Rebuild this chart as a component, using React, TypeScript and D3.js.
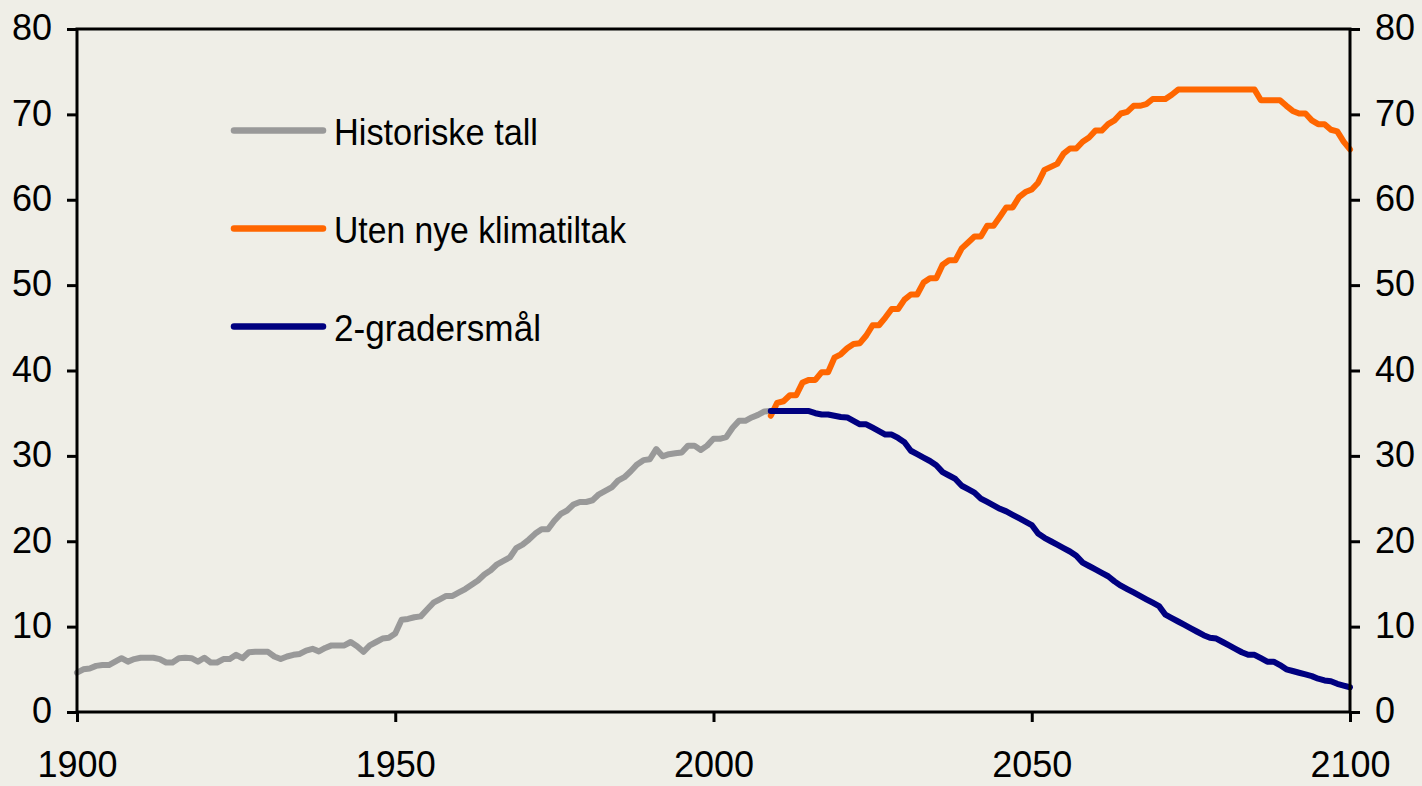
import React, { useRef, useEffect } from 'react';
import * as d3 from 'd3';

// annual values
const historicalStart = 1900;
const historical = [
  4.6, 5.0, 5.1, 5.4, 5.5, 5.5, 5.9, 6.3, 5.9, 6.2,
  6.35, 6.35, 6.35, 6.2, 5.8, 5.8, 6.3, 6.35, 6.3, 5.9,
  6.35, 5.8, 5.8, 6.2, 6.2, 6.7, 6.3, 7.0, 7.05, 7.05,
  7.05, 6.5, 6.2, 6.5, 6.7, 6.8, 7.2, 7.4, 7.1, 7.5,
  7.8, 7.8, 7.8, 8.2, 7.7, 7.05, 7.8, 8.2, 8.6, 8.7,
  9.2, 10.8, 10.9, 11.1, 11.2, 12.0, 12.8, 13.2, 13.6, 13.6,
  14.0, 14.4, 14.9, 15.4, 16.1, 16.6, 17.3, 17.7, 18.1, 19.2,
  19.6, 20.2, 20.9, 21.4, 21.4, 22.4, 23.2, 23.6, 24.3, 24.6,
  24.6, 24.8, 25.5, 25.9, 26.3, 27.1, 27.5, 28.2, 29.0, 29.5,
  29.6, 30.8, 29.95, 30.2, 30.3, 30.4, 31.2, 31.2, 30.7, 31.2,
  32.0, 32.0, 32.2, 33.3, 34.1, 34.1, 34.5, 34.8, 35.2, 35.25
];

const scenarioStart = 2009;
const noNewMeasures = [
  34.7,
  36.2, 36.4, 37.1, 37.1, 38.6, 38.9, 38.9, 39.8, 39.8, 41.5,
  41.9, 42.6, 43.1, 43.2, 44.1, 45.3, 45.3, 46.2, 47.2, 47.2,
  48.3, 48.9, 48.9, 50.3, 50.8, 50.8, 52.4, 52.9, 52.9, 54.3,
  55.0, 55.7, 55.7, 56.95, 56.95, 58.0, 59.1, 59.1, 60.3, 60.9,
  61.2, 62.0, 63.5, 63.85, 64.2, 65.4, 66.0, 66.0, 66.8, 67.3,
  68.1, 68.1, 68.85, 69.3, 70.1, 70.3, 71.0, 71.0, 71.2, 71.8,
  71.8, 71.8, 72.3, 72.9, 72.9, 72.9, 72.9, 72.9, 72.9, 72.9,
  72.9, 72.9, 72.9, 72.9, 72.9, 72.9, 71.65, 71.65, 71.65, 71.65,
  71.0, 70.4, 70.1, 70.1, 69.3, 68.85, 68.85, 68.2, 68.0, 66.8,
  65.9
];
const twoDegree = [
  35.25,
  35.25, 35.25, 35.25, 35.25, 35.25, 35.25, 35.0, 34.85, 34.85, 34.7,
  34.55, 34.5, 34.1, 33.7, 33.7, 33.3, 32.9, 32.5, 32.5, 32.1,
  31.6, 30.6, 30.2, 29.8, 29.4, 28.9, 28.1, 27.7, 27.3, 26.5,
  26.1, 25.7, 25.0, 24.6, 24.2, 23.8, 23.5, 23.1, 22.7, 22.3,
  21.9, 20.9, 20.4, 20.0, 19.6, 19.2, 18.8, 18.3, 17.5, 17.1,
  16.7, 16.3, 15.9, 15.3, 14.8, 14.4, 14.0, 13.6, 13.2, 12.8,
  12.4, 11.4, 11.0, 10.6, 10.2, 9.8, 9.4, 9.0, 8.7, 8.6,
  8.2, 7.8, 7.4, 7.0, 6.7, 6.7, 6.3, 5.9, 5.9, 5.5,
  5.0, 4.8, 4.6, 4.4, 4.2, 3.9, 3.7, 3.6, 3.3, 3.1,
  2.9
];

const yearTicks = [1900, 1950, 2000, 2050, 2100];
const valueTicks = [0, 10, 20, 30, 40, 50, 60, 70, 80];

const seriesNames = ['Historiske tall', 'Uten nye klimatiltak', '2-gradersmål'];
const seriesColors = ['#999999', '#ff6600', '#000080'];

const App = () => {
  const ref = useRef<SVGSVGElement>(null);

  useEffect(() => {
    const width = 1422;
    const height = 786;
    const left = 77, right = 1350, top = 29, bottom = 712;
    const font = '"Liberation Sans", Arial, sans-serif';

    const svg = d3.select(ref.current);
    svg.selectAll('*').remove();
    svg.attr('width', width).attr('height', height);

    svg.append('rect').attr('width', width).attr('height', height).attr('fill', '#efeee7');

    const x = d3.scaleLinear().domain([1900, 2100]).range([left, right]);
    const y = d3.scaleLinear().domain([0, 80]).range([bottom, top]);

    const toPoints = (start: number, vals: number[]) => vals.map((v, i) => [start + i, v] as [number, number]);
    const series = [
      toPoints(historicalStart, historical),
      toPoints(scenarioStart, noNewMeasures),
      toPoints(scenarioStart, twoDegree)
    ];

    const line = d3.line<[number, number]>().x(d => x(d[0])).y(d => y(d[1]));

    series.forEach((pts, i) => {
      svg.append('path')
        .attr('d', line(pts))
        .attr('fill', 'none')
        .attr('stroke', seriesColors[i])
        .attr('stroke-width', 6)
        .attr('stroke-linejoin', 'round')
        .attr('stroke-linecap', 'round');
    });

    // frame
    svg.append('rect')
      .attr('x', left).attr('y', top)
      .attr('width', right - left).attr('height', bottom - top)
      .attr('fill', 'none').attr('stroke', '#000').attr('stroke-width', 3);

    const styleAxis = (g: any) => {
      g.select('.domain').remove();
      g.selectAll('.tick line').attr('stroke', '#000').attr('stroke-width', 3);
      g.selectAll('.tick text')
        .attr('fill', '#000')
        .attr('font-family', font)
        .attr('font-size', 36);
    };

    svg.append('g')
      .attr('transform', `translate(0,${bottom})`)
      .call(d3.axisBottom(x).tickValues(yearTicks).tickFormat(d3.format('d')).tickSize(10).tickPadding(29))
      .call(styleAxis);

    svg.append('g')
      .attr('transform', `translate(${left},0)`)
      .call(d3.axisLeft(y).tickValues(valueTicks).tickSize(10).tickPadding(15))
      .call(styleAxis)
      .selectAll('.tick text').attr('dy', '0.3em');

    svg.append('g')
      .attr('transform', `translate(${right},0)`)
      .call(d3.axisRight(y).tickValues(valueTicks).tickSize(10).tickPadding(15))
      .call(styleAxis)
      .selectAll('.tick text').attr('dy', '0.3em');

    // legend
    const legendWidths = [204, 292, 207];
    seriesNames.forEach((name, i) => {
      const ly = 130.5 + i * 98;
      svg.append('line')
        .attr('x1', 234).attr('x2', 323)
        .attr('y1', ly).attr('y2', ly)
        .attr('stroke', seriesColors[i])
        .attr('stroke-width', 6.5)
        .attr('stroke-linecap', 'round');
      svg.append('text')
        .attr('x', 334).attr('y', ly + 14.5)
        .attr('font-family', font)
        .attr('font-size', 36)
        .attr('textLength', legendWidths[i])
        .attr('lengthAdjust', 'spacingAndGlyphs')
        .attr('fill', '#000')
        .text(name);
    });
  }, []);

  return <svg ref={ref} style={{ position: 'absolute', left: 0, top: 0 }}></svg>;
};

export default App;
